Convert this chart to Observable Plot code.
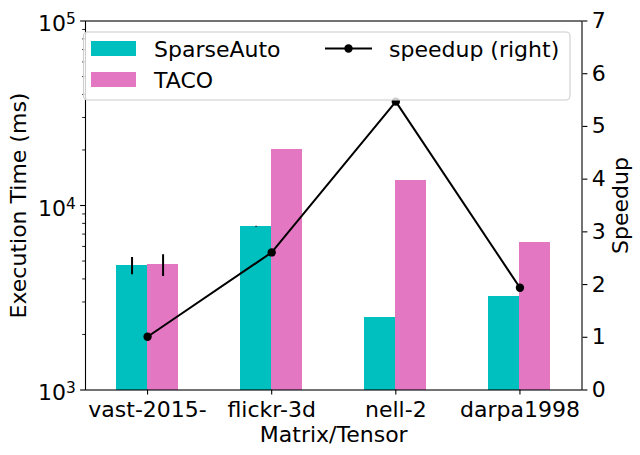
<!DOCTYPE html>
<html>
<head>
<meta charset="utf-8">
<script src="https://cdn.jsdelivr.net/npm/d3@7"></script>
<script src="https://cdn.jsdelivr.net/npm/@observablehq/plot@0.6"></script>
<style>
  body { margin: 0; background: #fff; }
  #wrap { position: relative; width: 640px; height: 455px; }
  #wrap svg { position: absolute; left: 0; top: 0; }
</style>
</head>
<body>
<div id="wrap"></div>
<script>
// ---- data ----
const categories = ["vast-2015-", "flickr-3d", "nell-2", "darpa1998"];
const seriesNames = ["SparseAuto", "TACO"];
const seriesColors = ["#00bfbf", "#e377c2"];
const sparseAuto = [4713, 7670, 2465, 3202];
const taco = [4790, 20040, 13610, 6280];
const sparseAutoErrLo = [4213, 7630, null, null];
const sparseAutoErrHi = [5227, 7710, null, null];
const tacoErrLo = [4124, null, null, null];
const tacoErrHi = [5407, null, null, null];
const speedup = [1.01, 2.61, 5.47, 1.94];
const lineName = "speedup (right)";
const leftTicks = [1e3, 1e4, 1e5];
const leftTickBase = "10";
const leftTickExponents = ["3", "4", "5"];
const leftMinorTicks = [2e3,3e3,4e3,5e3,6e3,7e3,8e3,9e3,2e4,3e4,4e4,5e4,6e4,7e4,8e4,9e4];
const rightTicks = [0, 1, 2, 3, 4, 5, 6, 7];
const xTitle = "Matrix/Tensor";
const yTitle = "Execution Time (ms)";
const y2Title = "Speedup";

// ---- layout ----
const W = 640, H = 455, mL = 85, mR = 58.5, mT = 20.5, mB = 65.5;
const FONT = "'DejaVu Sans', sans-serif";
const barW = 0.25;
const idx = categories.map((_, i) => i);

const rows = idx.flatMap(i => [
  {i, series: seriesNames[0], value: sparseAuto[i], lo: sparseAutoErrLo[i], hi: sparseAutoErrHi[i], off: -1},
  {i, series: seriesNames[1], value: taco[i], lo: tacoErrLo[i], hi: tacoErrHi[i], off: 0}
]);

const main = Plot.plot({
  width: W, height: H,
  marginLeft: mL, marginRight: mR, marginTop: mT, marginBottom: mB,
  style: {fontFamily: FONT, fontSize: "22px", background: "white", color: "black", overflow: "visible"},
  x: {type: "linear", domain: [-0.5, 3.5], axis: null},
  y: {type: "log", domain: [1e3, 1e5], axis: null, label: null},
  color: {domain: seriesNames, range: seriesColors},
  marks: [
    Plot.rect(rows, {
      x1: d => d.i + d.off * barW, x2: d => d.i + (d.off + 1) * barW,
      y1: () => 1e3, y2: "value", fill: "series",
      inset: 0, shapeRendering: "crispEdges"
    }),
    Plot.ruleX(rows.filter(d => d.lo != null), {
      x: d => d.i + (d.off + 0.5) * barW, y1: "lo", y2: "hi",
      stroke: "black", strokeWidth: 2
    }),
    Plot.frame({stroke: "black", strokeWidth: 1.1}),
    Plot.axisY(leftMinorTicks, {anchor: "left", tickSize: 2.8, strokeWidth: 0.9, tickFormat: () => "", label: null}),
    Plot.axisY(leftTicks, {anchor: "left", tickSize: 4.9, strokeWidth: 1.1, tickFormat: () => "", label: null}),
    Plot.axisY(leftTicks, {
      anchor: "left", tickSize: 0, tickPadding: 9.8, dy: 3, label: null,
      tickFormat: d => "EXP" + leftTickExponents[leftTicks.indexOf(d)], fontSize: 22
    }),
    Plot.axisX(idx, {
      anchor: "bottom", tickSize: 4.9, tickPadding: 6, strokeWidth: 1.1,
      tickFormat: i => categories[i], label: null, fontSize: 22
    }),
    Plot.text([xTitle], {text: d => d, frameAnchor: "bottom", dy: 52, lineAnchor: "bottom", textAnchor: "middle", fontSize: 22}),
    Plot.text([yTitle], {text: d => d, frameAnchor: "left", dx: -67, rotate: -90, textAnchor: "middle", lineAnchor: "middle", fontSize: 22})
  ]
});

// mathtext-like superscripts for the log tick labels
d3.select(main).selectAll("text").each(function() {
  const t = this.textContent;
  if (t.startsWith("EXP")) {
    const exp = t.slice(3);
    const sel = d3.select(this);
    sel.text(null);
    sel.append("tspan").text(leftTickBase);
    sel.append("tspan").attr("font-size", "15.4px").attr("dy", "-7").text(exp);
  }
});

const overlay = Plot.plot({
  width: W, height: H,
  marginLeft: mL, marginRight: mR, marginTop: mT, marginBottom: mB,
  style: {fontFamily: FONT, fontSize: "22px", background: "transparent", color: "black", overflow: "visible"},
  x: {type: "linear", domain: [-0.5, 3.5], axis: null},
  y: {type: "linear", domain: [0, 7], axis: null, label: null},
  marks: [
    Plot.line(idx, {x: i => i, y: i => speedup[i], stroke: "black", strokeWidth: 2}),
    Plot.dot(idx, {x: i => i, y: i => speedup[i], r: 4.2, fill: "black", stroke: "none"}),
    Plot.axisY(rightTicks, {
      anchor: "right", tickSize: 4.9, tickPadding: 4.9, strokeWidth: 1.1,
      tickFormat: d => String(d), label: null, fontSize: 22
    }),
    Plot.text([y2Title], {text: d => d, frameAnchor: "right", dx: 39, rotate: -90, textAnchor: "middle", lineAnchor: "middle", fontSize: 22})
  ]
});

// ---- legend ----
const leg = d3.create("svg").attr("width", W).attr("height", H)
  .style("font-family", FONT).style("font-size", "22px").style("overflow", "visible");
leg.append("rect").attr("x", 83.5).attr("y", 32).attr("width", 486.5).attr("height", 68).attr("rx", 4)
  .attr("fill", "white").attr("fill-opacity", 0.8).attr("stroke", "#cccccc").attr("stroke-width", 1.1);
seriesNames.forEach((name, k) => {
  leg.append("rect").attr("x", 91).attr("y", 41 + k * 31).attr("width", 45).attr("height", 15)
    .attr("fill", seriesColors[k]);
  leg.append("text").attr("x", 154).attr("y", 57.3 + k * 31).attr("fill", "black").text(name);
});
leg.append("line").attr("x1", 325).attr("x2", 372).attr("y1", 48.5).attr("y2", 48.5)
  .attr("stroke", "black").attr("stroke-width", 2);
leg.append("circle").attr("cx", 348.5).attr("cy", 48.5).attr("r", 4.2).attr("fill", "black");
leg.append("text").attr("x", 389).attr("y", 57.3).attr("fill", "black").text(lineName);

const wrap = document.getElementById("wrap");
wrap.appendChild(main);
wrap.appendChild(overlay);
wrap.appendChild(leg.node());
</script>
</body>
</html>
